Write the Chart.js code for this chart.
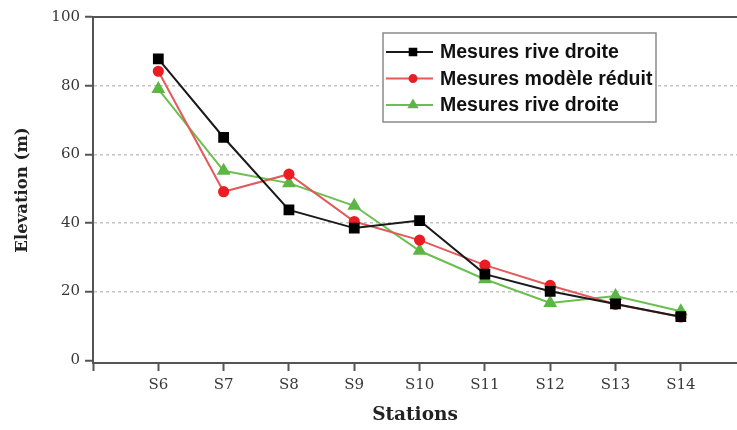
<!DOCTYPE html>
<html>
<head>
<meta charset="utf-8">
<script src="https://cdn.jsdelivr.net/npm/chart.js@4"></script>
<style>
  html, body { margin: 0; padding: 0; background: #fff; }
  #wrap { width: 737px; height: 430px; }
</style>
</head>
<body>
<div id="wrap"><canvas id="chart" width="737" height="430"></canvas></div>
<script>
// station numbers on the x axis (S6 .. S14)
const stations = [6, 7, 8, 9, 10, 11, 12, 13, 14];
const seriesNames = ["Mesures rive droite", "Mesures modèle réduit", "Mesures rive droite"];
const rightBank = [87.8, 64.9, 43.8, 38.5, 40.7, 25.1, 20.1, 16.4, 12.7];
const scaleModel = [84.2, 49.1, 54.2, 40.4, 35.0, 27.7, 21.8, 16.3, 12.6];
const rightBank2 = [79.0, 55.2, 51.6, 45.0, 31.9, 23.6, 16.7, 18.7, 14.3];
const yTicks = [0, 20, 40, 60, 80, 100];

const toPoints = vals => vals.map((v, i) => ({ x: stations[i], y: v }));

const serifFont = "'DejaVu Serif', serif";
const axisGrey = "#555";

// legend box drawn inside the plot, like the original
const boxLegend = {
  id: "boxLegend",
  afterDraw(chart) {
    const ctx = chart.ctx;
    const x0 = 383, y0 = 33, w = 273, h = 89;
    ctx.save();
    ctx.fillStyle = "#fff";
    ctx.fillRect(x0, y0, w, h);
    ctx.strokeStyle = "#8a8a8a";
    ctx.lineWidth = 1.5;
    ctx.strokeRect(x0, y0, w, h);
    ctx.font = "bold 19.5px 'Liberation Sans', Arial, sans-serif";
    ctx.textBaseline = "middle";
    chart.data.datasets.forEach((ds, i) => {
      const y = 52 + i * 26.5;
      ctx.strokeStyle = ds.borderColor;
      ctx.lineWidth = 2;
      ctx.beginPath();
      ctx.moveTo(386, y);
      ctx.lineTo(433, y);
      ctx.stroke();
      ctx.fillStyle = ds.pointBackgroundColor;
      ctx.strokeStyle = ds.pointBackgroundColor;
      Chart.helpers.drawPoint(ctx, {
        pointStyle: ds.pointStyle,
        radius: ds.pointRadius * 0.75,
        borderWidth: 1
      }, 413, y);
      ctx.fillStyle = "#111";
      ctx.fillText(ds.label, 440, y + 1);
    });
    ctx.restore();
  }
};

// solid top frame line at 100
const topLine = {
  id: "topLine",
  beforeDatasetsDraw(chart) {
    const { ctx, chartArea } = chart;
    ctx.save();
    ctx.strokeStyle = axisGrey;
    ctx.lineWidth = 2;
    ctx.beginPath();
    ctx.moveTo(chartArea.left, chartArea.top);
    ctx.lineTo(chartArea.right, chartArea.top);
    ctx.stroke();
    ctx.restore();
  }
};

new Chart(document.getElementById("chart"), {
  type: "line",
  data: {
    datasets: [
      {
        label: seriesNames[0],
        data: toPoints(rightBank),
        borderColor: "#1a1a1a",
        pointBackgroundColor: "#000",
        pointBorderColor: "#000",
        pointStyle: "rect",
        pointRadius: 6.2,
        borderWidth: 2
      },
      {
        label: seriesNames[1],
        data: toPoints(scaleModel),
        borderColor: "#e25a5a",
        pointBackgroundColor: "#ec1c24",
        pointBorderColor: "#ec1c24",
        pointStyle: "circle",
        pointRadius: 4.6,
        borderWidth: 2
      },
      {
        label: seriesNames[2],
        data: toPoints(rightBank2),
        borderColor: "#6cbf4f",
        pointBackgroundColor: "#5cb645",
        pointBorderColor: "#5cb645",
        pointStyle: "triangle",
        pointRadius: 6,
        borderWidth: 2
      }
    ]
  },
  options: {
    responsive: false,
    animation: false,
    layout: { padding: { top: 17, right: 0, left: 0, bottom: 0 }, autoPadding: false },
    plugins: {
      legend: { display: false },
      tooltip: { enabled: false }
    },
    scales: {
      x: {
        type: "linear",
        min: 5,
        max: 14.86,
        afterBuildTicks: scale => {
          scale.ticks = [5].concat(stations).map(v => ({ value: v }));
        },
        afterFit: scale => { scale.height = 67; },
        ticks: {
          callback: v => (v >= 6 ? "S" + v : ""),
          font: { family: serifFont, size: 15 },
          color: "#383838",
          padding: 5,
          maxRotation: 0,
          autoSkip: false
        },
        grid: {
          drawOnChartArea: false,
          drawTicks: true,
          tickLength: 8,
          tickColor: axisGrey,
          tickWidth: 2
        },
        border: { display: true, color: axisGrey, width: 2 },
        title: {
          display: true,
          text: "Stations",
          font: { family: serifFont, size: 18.5, weight: "bold" },
          color: "#222",
          padding: { top: 0, bottom: 4 }
        }
      },
      y: {
        min: -0.8,
        max: 100,
        afterBuildTicks: scale => {
          scale.ticks = yTicks.map(v => ({ value: v }));
        },
        afterFit: scale => { scale.width = 93; },
        ticks: {
          font: { family: serifFont, size: 15 },
          color: "#383838",
          padding: 5
        },
        grid: {
          color: c => (c.tick && (c.tick.value === 0 || c.tick.value === 100)) ? "rgba(0,0,0,0)" : "#c4c4c4",
          lineWidth: 1.5,
          drawTicks: true,
          tickLength: 8,
          tickColor: axisGrey,
          tickWidth: 2,
          tickBorderDash: []
        },
        border: { display: true, color: axisGrey, width: 2, dash: [3, 3] },
        title: {
          display: true,
          text: "Elevation (m)",
          font: { family: serifFont, size: 16.5, weight: "bold" },
          color: "#222",
          padding: { top: 13, bottom: 0 }
        }
      }
    }
  },
  plugins: [topLine, boxLegend]
});
</script>
</body>
</html>
